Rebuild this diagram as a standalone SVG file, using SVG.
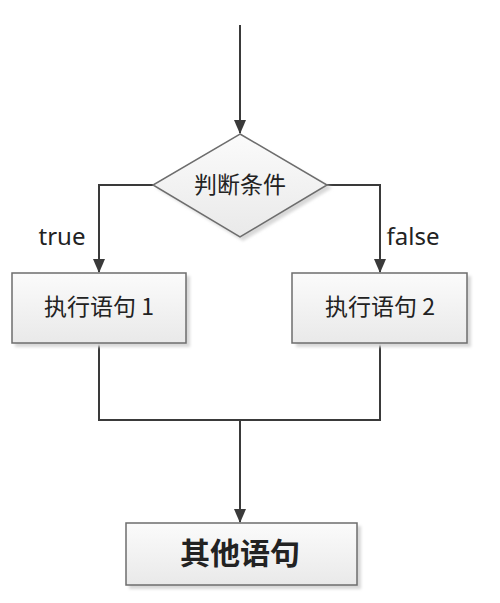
<svg xmlns="http://www.w3.org/2000/svg" width="500" height="603" viewBox="0 0 500 603">
<style>
.box{fill:url(#g);stroke:#6d6d6d;stroke-width:1.5}
.sh{fill:#d8d8d8}
.ln{fill:none;stroke:#3a3a3a;stroke-width:2}
.t{font-family:"Noto Sans CJK SC","Noto Sans",sans-serif;fill:#222}
.e{font-family:"Noto Sans","Noto Sans CJK SC",sans-serif;fill:#222}
</style>
<defs>
<linearGradient id="g" x1="0" y1="0" x2="0" y2="1">
<stop offset="0" stop-color="#fbfbfb"/>
<stop offset="1" stop-color="#e9e9e9"/>
</linearGradient>
<marker id="a" markerWidth="14" markerHeight="12" refX="13" refY="6" orient="auto" markerUnits="userSpaceOnUse" viewBox="0 0 14 12">
<path d="M0,0 L14,6 L0,12 Z" fill="#3a3a3a"/>
</marker>
<filter id="blur"><feGaussianBlur stdDeviation="1.5"/></filter>
</defs>
<g id="connectors">
<path class="ln" d="M240,25 V133" marker-end="url(#a)"/>
<path class="ln" d="M153,185 H99 V272" marker-end="url(#a)"/>
<path class="ln" d="M327,185 H380 V272" marker-end="url(#a)"/>
<path class="ln" d="M99,343 V420 H380 V343"/>
<path class="ln" d="M240,420 V522" marker-end="url(#a)"/>
</g>
<g id="cond">
<polygon points="243,138 332,188 243,241 156,188" class="sh" filter="url(#blur)"/>
<polygon points="240,134 327,185 240,237 153,185" class="box"/>
<text x="240" y="193" text-anchor="middle" font-size="23" class="t">判断条件</text>
</g>
<g id="lbl-true"><text x="62" y="245" text-anchor="middle" font-size="24" class="e">true</text></g>
<g id="lbl-false"><text x="413" y="245" text-anchor="middle" font-size="24" class="e">false</text></g>
<g id="stmt1">
<rect x="15" y="276" width="175" height="71" class="sh" filter="url(#blur)"/>
<rect x="12" y="273" width="174" height="70" class="box"/>
<text x="99" y="315" text-anchor="middle" font-size="23" class="t">执行语句 1</text>
</g>
<g id="stmt2">
<rect x="296" y="276" width="175" height="71" class="sh" filter="url(#blur)"/>
<rect x="292" y="273" width="175" height="70" class="box"/>
<text x="380" y="315" text-anchor="middle" font-size="23" class="t">执行语句 2</text>
</g>
<g id="other">
<rect x="129" y="526" width="232" height="63" class="sh" filter="url(#blur)"/>
<rect x="126" y="523" width="231" height="62" class="box"/>
<text x="240" y="564" text-anchor="middle" font-size="30" font-weight="bold" class="t">其他语句</text>
</g>
</svg>
